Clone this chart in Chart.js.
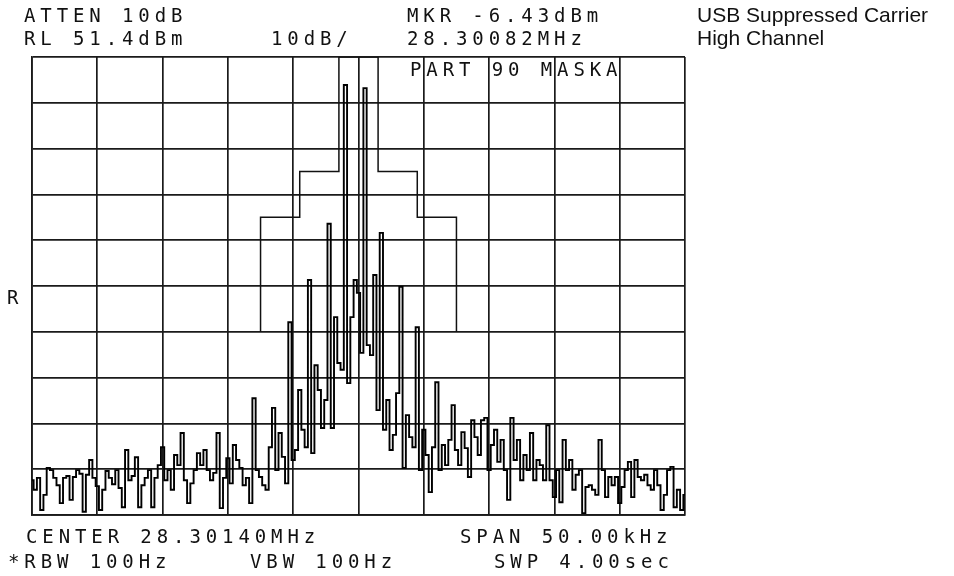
<!DOCTYPE html>
<html>
<head>
<meta charset="utf-8">
<script src="https://cdn.jsdelivr.net/npm/chart.js@4.4.1/dist/chart.umd.min.js"></script>
<style>
  html, body { margin: 0; padding: 0; background: #fff; }
  #wrap { position: relative; width: 954px; height: 576px; overflow: hidden; }
  #plot { position: absolute; left: 0; top: 0; }
  .hp {
    position: absolute; margin: 0; white-space: pre; color: #111;
    font-family: "DejaVu Sans Mono", monospace; font-size: 19px;
    line-height: 19px; letter-spacing: 4.9px;
  }
  .note {
    position: absolute; margin: 0; white-space: pre; color: #111;
    font-family: "Liberation Sans", Arial, sans-serif; font-size: 21px;
    line-height: 21px;
  }
</style>
</head>
<body>
<div id="wrap">
  <canvas id="plot" width="954" height="576"></canvas>
  <div class="hp" style="left:24px; top:6px;">ATTEN 10dB</div>
  <div class="hp" style="left:24px; top:29px;">RL 51.4dBm</div>
  <div class="hp" style="left:271px; top:29px;">10dB/</div>
  <div class="hp" style="left:407px; top:6px;">MKR -6.43dBm</div>
  <div class="hp" style="left:407px; top:29px;">28.30082MHz</div>
  <div class="hp" style="left:410px; top:60px;">PART 90 MASKA</div>
  <div class="hp" style="left:7px; top:288px;">R</div>
  <div class="hp" style="left:26px; top:527px;">CENTER 28.30140MHz</div>
  <div class="hp" style="left:8px; top:552px;">*RBW 100Hz</div>
  <div class="hp" style="left:250px; top:552px;">VBW 100Hz</div>
  <div class="hp" style="left:460px; top:527px;">SPAN 50.00kHz</div>
  <div class="hp" style="left:494px; top:552px;">SWP 4.00sec</div>
  <div class="note" style="left:697px; top:4px;">USB Suppressed Carrier</div>
  <div class="note" style="left:697px; top:27px;">High Channel</div>
</div>
<script>
// sweep: 50 kHz span around 28.30140 MHz, offsets in kHz
const spanStart = -25;
const spanStep = 0.25;

// trace levels in dBm, one per sweep point
const traceLevels = [
  -41.0, -43.1, -40.5, -47.5, -44.2, -38.3, -38.8, -40.5, -42.1, -46.0,
  -40.5, -40.1, -45.3, -40.3, -38.8, -39.6, -47.9, -39.8, -36.6, -40.5,
  -42.3, -47.5, -43.1, -39.0, -40.5, -41.9, -38.8, -42.7, -46.9, -34.4,
  -41.0, -40.1, -36.0, -46.9, -42.1, -40.5, -38.8, -46.9, -40.5, -37.7,
  -33.8, -41.0, -38.8, -43.1, -35.5, -37.7, -30.7, -41.0, -46.0, -41.7,
  -38.8, -35.1, -37.7, -34.4, -38.8, -41.0, -39.4, -30.7, -47.1, -40.5,
  -36.2, -41.7, -33.3, -36.6, -38.3, -42.1, -40.5, -46.0, -23.1, -38.8,
  -40.3, -42.1, -43.1, -33.8, -25.2, -38.8, -30.7, -35.9, -41.7, -6.5,
  -36.6, -34.4, -21.3, -30.0, -33.8, 2.7, -35.1, -15.9, -21.3, -29.6,
  -23.5, 15.0, -29.6, -5.4, -15.4, -16.9, 45.3, -19.8, -5.4, 2.7,
  -0.1, -13.2, 44.6, -11.5, -13.7, 3.8, -25.7, 13.0, -30.0, -23.5,
  -34.4, -31.1, -22.0, 1.2, -38.3, -26.8, -31.6, -33.8, -7.6, -38.8,
  -30.0, -35.5, -43.6, -33.8, -19.6, -38.8, -33.3, -37.7, -32.2, -24.6,
  -34.4, -37.7, -30.5, -34.0, -40.3, -27.9, -31.6, -35.5, -27.9, -27.4,
  -38.8, -33.3, -30.0, -37.0, -32.2, -38.8, -45.3, -27.4, -36.6, -32.2,
  -41.0, -35.5, -38.8, -30.7, -41.0, -36.6, -37.7, -41.0, -29.0, -41.0,
  -44.7, -38.8, -45.8, -32.2, -38.8, -36.6, -43.1, -39.8, -38.8, -48.2,
  -42.5, -42.1, -43.1, -44.2, -32.2, -38.8, -44.7, -40.3, -42.1, -40.3,
  -46.0, -42.5, -38.8, -37.0, -44.7, -36.6, -40.3, -41.0, -39.8, -42.1,
  -43.1, -38.8, -42.1, -47.5, -44.2, -38.8, -38.1, -46.9, -43.1, -47.5,
  -44.2
];

// Part 90 emission mask (kHz offset, dBm)
const maskFreq  = [-7.5, -7.5, -4.5, -4.5, -1.5, -1.5, 1.5, 1.5, 4.5, 4.5, 7.5, 7.5];
const maskLevel = [-8.6, 16.4, 16.4, 26.4, 26.4, 51.4, 51.4, 26.4, 26.4, 16.4, 16.4, -8.6];

// graticule: 10 divisions each way
const xTicks = [-25, -20, -15, -10, -5, 0, 5, 10, 15, 20, 25];
const yTicks = [-48.6, -38.6, -28.6, -18.6, -8.6, 1.4, 11.4, 21.4, 31.4, 41.4, 51.4];

const tracePoints = traceLevels.map((v, i) => ({ x: spanStart + i * spanStep, y: v }));
const maskPoints = maskFreq.map((f, i) => ({ x: f, y: maskLevel[i] }));

const gridStyle = { color: '#1a1a1a', lineWidth: 1.7, drawTicks: false };

new Chart(document.getElementById('plot').getContext('2d'), {
  type: 'line',
  data: {
    datasets: [
      {
        label: 'Mask',
        data: maskPoints,
        borderColor: '#111',
        borderWidth: 1.5,
        pointRadius: 0,
        fill: false,
        tension: 0
      },
      {
        label: 'Trace',
        data: tracePoints,
        borderColor: '#000',
        borderWidth: 1.9,
        pointRadius: 0,
        fill: false,
        stepped: 'middle'
      }
    ]
  },
  options: {
    responsive: false,
    animation: false,
    events: [],
    layout: { padding: { left: 32, top: 57, right: 269, bottom: 61 } },
    plugins: { legend: { display: false }, tooltip: { enabled: false } },
    scales: {
      x: {
        type: 'linear',
        min: -25,
        max: 25,
        afterBuildTicks: axis => { axis.ticks = xTicks.map(v => ({ value: v })); },
        ticks: { display: false },
        grid: gridStyle,
        border: { display: true, color: '#1a1a1a', width: 1.7 }
      },
      y: {
        type: 'linear',
        min: -48.6,
        max: 51.4,
        afterBuildTicks: axis => { axis.ticks = yTicks.map(v => ({ value: v })); },
        ticks: { display: false },
        grid: gridStyle,
        border: { display: true, color: '#1a1a1a', width: 1.7 }
      }
    }
  }
});
</script>
</body>
</html>
